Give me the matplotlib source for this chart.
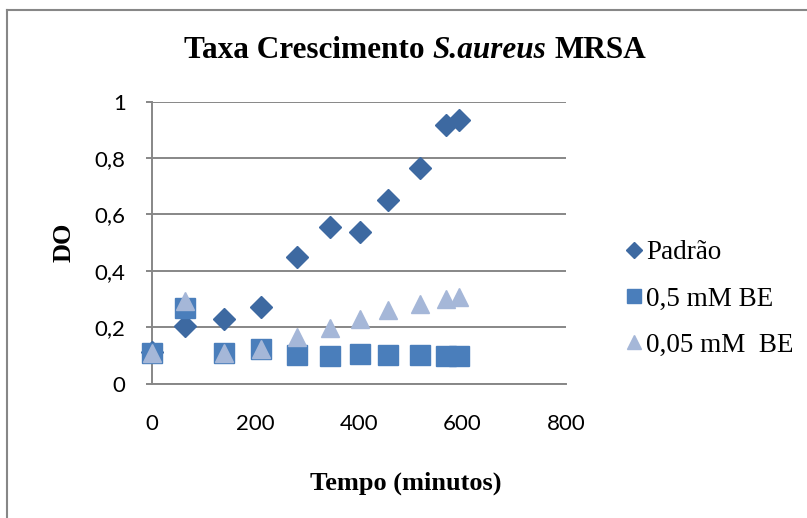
import matplotlib

matplotlib.use("Agg")
import matplotlib.pyplot as plt
from matplotlib.lines import Line2D
from matplotlib.offsetbox import AnchoredOffsetbox, HPacker, TextArea

# time points (minutes)
tempo = [0, 64, 139, 210, 280, 343, 401, 457, 518, 568, 593]

padrao = [0.11, 0.205, 0.228, 0.271, 0.450, 0.556, 0.536, 0.649, 0.763, 0.915, 0.934]
be_05 = [0.107, 0.267, 0.107, 0.121, 0.101, 0.099, 0.104, 0.102, 0.100, 0.099, 0.099]
be_005 = [0.107, 0.291, 0.107, 0.124, 0.164, 0.198, 0.230, 0.260, 0.283, 0.301, 0.307]

series_labels = ["Padrão", "0,5 mM BE", "0,05 mM  BE"]
series_colors = ["#3D69A1", "#4A7EBB", "#A5B7D8"]
series_markers = ["D", "s", "^"]

x_ticks = [0, 200, 400, 600, 800]
y_ticks = [0, 0.2, 0.4, 0.6, 0.8, 1.0]
y_ticklabels = ["0", "0,2", "0,4", "0,6", "0,8", "1"]

W, H = 807, 518
fig = plt.figure(figsize=(W / 100, H / 100), dpi=100)
ax = fig.add_axes([152 / W, 1 - 383.5 / H, (566 - 152) / W, (383.5 - 101.5) / H])

grid_c = "#878787"
sizes = [11, 14, 13]
for ys, lab, col, mk, ms in zip([padrao, be_05, be_005], series_labels,
                                series_colors, series_markers, sizes):
    ax.plot(tempo, ys, linestyle="none", marker=mk, markersize=ms, color=col,
            markeredgecolor=col, label=lab, clip_on=False, zorder=3)

ax.set_xlim(0, 800)
ax.set_ylim(0, 1)
ax.set_xticks(x_ticks)
ax.set_xticklabels([str(v) for v in x_ticks])
ax.set_yticks(y_ticks)
ax.set_yticklabels(y_ticklabels)
ax.yaxis.grid(True, color=grid_c, linewidth=1.4)
ax.set_axisbelow(True)

for side in ["top", "right"]:
    ax.spines[side].set_visible(False)
for side in ["left", "bottom"]:
    ax.spines[side].set_color(grid_c)
    ax.spines[side].set_linewidth(1.4)

ax.tick_params(axis="y", length=4, color=grid_c, width=1.4, pad=15)
ax.tick_params(axis="x", length=0, pad=22)
for t in ax.get_xticklabels() + ax.get_yticklabels():
    t.set_fontfamily("Lato")
    t.set_fontsize(16)

ax.set_ylabel("DO", family="Liberation Serif", fontweight="bold",
              fontsize=19, labelpad=14)
# x label sits centred under the whole chart, not the plot area
fig.text(406 / W, 1 - 483 / H, "Tempo (minutos)", ha="center", va="center",
         family="Liberation Serif", fontweight="bold", fontsize=19)

# title with italic species name
tprops = dict(family="Liberation Serif", fontweight="bold", fontsize=22.5)
title_box = HPacker(children=[
    TextArea("Taxa Crescimento", textprops=tprops),
    TextArea("S.aureus", textprops=dict(tprops, style="italic")),
    TextArea("MRSA", textprops=tprops),
], sep=6, align="baseline", pad=0)
fig.add_artist(AnchoredOffsetbox(loc="center", child=title_box, frameon=False,
                                 bbox_to_anchor=(415 / W, 1 - 50 / H),
                                 bbox_transform=fig.transFigure, pad=0,
                                 borderpad=0))

leg = ax.legend(loc="center left", bbox_to_anchor=(612 / W, 1 - 299 / H),
                bbox_transform=fig.transFigure, frameon=False,
                prop={"family": "Liberation Serif", "size": 19.5},
                handlelength=0.6, handletextpad=0.15, labelspacing=0.78,
                markerscale=0.75, borderpad=0)

# outer chart border (left and top only visible)
fig.add_artist(Line2D([7 / W, 7 / W], [0, 1 - 10 / H], transform=fig.transFigure,
                      color=grid_c, linewidth=1.5))
fig.add_artist(Line2D([7 / W, 1], [1 - 10 / H, 1 - 10 / H], transform=fig.transFigure,
                      color=grid_c, linewidth=1.5))

fig.savefig("out.png", dpi=100)
